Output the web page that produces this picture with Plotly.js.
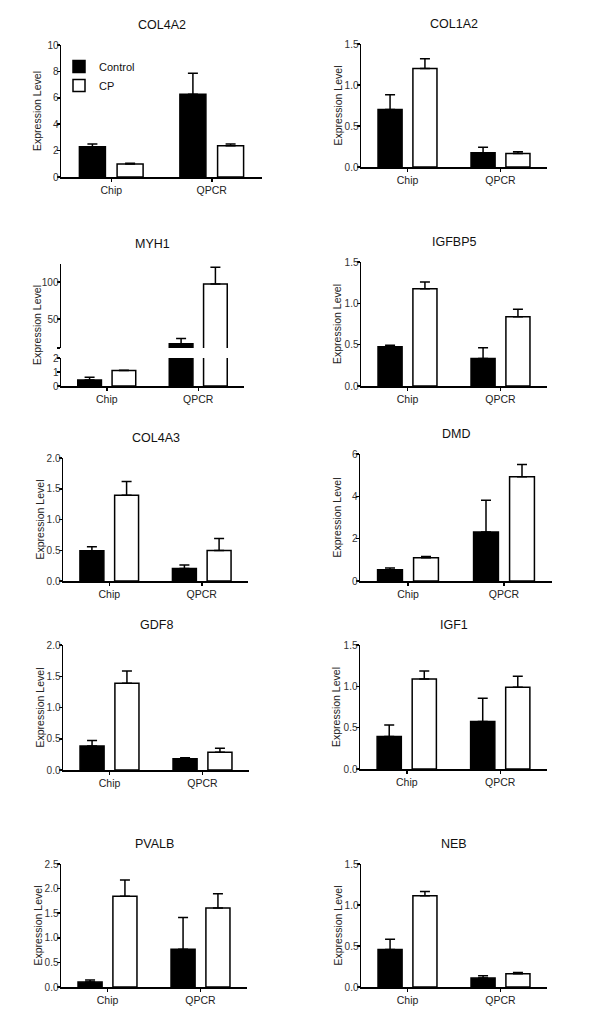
<!DOCTYPE html>
<html>
<head>
<meta charset="utf-8">
<script src="https://cdn.plot.ly/plotly-3.0.1.min.js"></script>
<style>
  html, body { margin: 0; padding: 0; background: #fff; }
  #gd { width: 600px; height: 1023px; }
</style>
</head>
<body>
<div id="gd"></div>
<script>
// values (mean and upper error, Chip / QPCR)
var genes = ["COL4A2", "COL1A2", "MYH1", "IGFBP5", "COL4A3", "DMD", "GDF8", "IGF1", "PVALB", "NEB"];
var groups = ["Chip", "QPCR"];

var controlMean = [[2.3, 6.26], [0.70, 0.175], [0.43, 16.8], [0.474, 0.332], [0.49, 0.205],
                   [0.53, 2.32], [0.384, 0.18], [0.394, 0.575], [0.10, 0.768], [0.457, 0.109]];
var controlErr  = [[0.2, 1.6], [0.18, 0.065], [0.2, 6.9], [0.02, 0.13], [0.067, 0.055],
                   [0.08, 1.49], [0.09, 0.017], [0.137, 0.28], [0.04, 0.647], [0.125, 0.028]];
var cpMean      = [[0.98, 2.37], [1.20, 0.165], [1.1, 97.3], [1.176, 0.839], [1.395, 0.497],
                   [1.10, 4.92], [1.387, 0.283], [1.09, 0.989], [1.846, 1.604], [1.112, 0.162]];
var cpErr       = [[0.07, 0.13], [0.12, 0.02], [0.02, 22.7], [0.081, 0.089], [0.221, 0.193],
                   [0.06, 0.58], [0.197, 0.064], [0.096, 0.133], [0.331, 0.29], [0.053, 0.016]];

var yMax   = [10, 1.5, 2, 1.5, 2, 6, 2, 1.5, 2.5, 1.5];
var yTicks = [[0, 2, 4, 6, 8, 10], [0, 0.5, 1, 1.5], [0, 1, 2], [0, 0.5, 1, 1.5], [0, 0.5, 1, 1.5, 2],
              [0, 2, 4, 6], [0, 0.5, 1, 1.5, 2], [0, 0.5, 1, 1.5], [0, 0.5, 1, 1.5, 2, 2.5], [0, 0.5, 1, 1.5]];

// MYH1 has a broken axis: upper segment
var myh1UpperRange = [10.9, 124.5];
var myh1UpperTicks = [10.9, 50, 100];
var myh1UpperText  = ["", "50", "100"];

// plot boxes in pixels (left, right, top, bottom)
var boxes = [
  [61, 262, 45, 177], [361, 547, 44, 167],
  [61, 244, 358, 386], [361, 547, 262, 386],
  [63, 248, 458, 581], [360, 552, 454, 581],
  [63, 249, 645, 770], [360, 547, 645, 769],
  [61, 247, 864, 987], [361, 547, 864, 987]
];
var myh1UpperBox = [264, 348];

var W = 600, H = 1023;
function fx(p) { return p / W; }
function fy(p) { return 1 - p / H; }

var FONT = "Liberation Sans, Arial, sans-serif";
var traces = [];
var layout = {
  width: W, height: H,
  margin: {l: 0, r: 0, t: 0, b: 0},
  paper_bgcolor: "#fff", plot_bgcolor: "rgba(0,0,0,0)",
  barmode: "group", bargap: 0.25, bargroupgap: 0.31,
  font: {family: FONT, size: 10, color: "#222"},
  showlegend: true,
  legend: {x: fx(59), y: fy(52), xanchor: "left", yanchor: "top", tracegroupgap: 0,
           bgcolor: "rgba(0,0,0,0)", font: {size: 11, color: "#111"}},
  annotations: [], shapes: []
};

function axisBase() {
  return {
    showline: true, linecolor: "#000", linewidth: 1.5,
    ticks: "outside", ticklen: 3, tickwidth: 1.5, tickcolor: "#000",
    showgrid: false, zeroline: false, fixedrange: true,
    tickfont: {size: 10, color: "#333"}
  };
}

function barPair(i, ya, showLeg) {
  var xa = "x" + (i + 1);
  traces.push({
    type: "bar", name: "Control", x: groups, y: controlMean[i],
    xaxis: xa, yaxis: ya, showlegend: showLeg,
    marker: {color: "#000", line: {color: "#000", width: 1.5}},
    error_y: {type: "data", symmetric: false, array: controlErr[i], arrayminus: [0, 0],
              color: "#000", thickness: 1.5, width: 5},
    hoverinfo: "y"
  });
  traces.push({
    type: "bar", name: "CP", x: groups, y: cpMean[i],
    xaxis: xa, yaxis: ya, showlegend: showLeg,
    marker: {color: "#fff", line: {color: "#000", width: 1.5}},
    error_y: {type: "data", symmetric: false, array: cpErr[i], arrayminus: [0, 0],
              color: "#000", thickness: 1.5, width: 5},
    hoverinfo: "y"
  });
}

genes.forEach(function (g, i) {
  var b = boxes[i];
  var n = i + 1;
  barPair(i, "y" + n, i === 0);

  var xa = axisBase();
  xa.type = "category";
  xa.range = [-0.5, 1.5];
  xa.domain = [fx(b[0]), fx(b[1])];
  xa.anchor = "y" + n;
  xa.tickfont = {size: 10.5, color: "#222"};
  layout["xaxis" + n] = xa;

  var ya = axisBase();
  ya.range = [0, yMax[i]];
  ya.tickvals = yTicks[i];
  ya.tickformat = yTicks[i].some(function (t) { return t % 1 !== 0; }) ? ".1f" : "d";
  ya.domain = [fy(b[3]), fy(b[2])];
  ya.anchor = "x" + n;
  ya.ticklabelstandoff = -4;
  layout["yaxis" + n] = ya;

  var top = b[2], bottom = b[3];
  if (g === "MYH1") top = myh1UpperBox[0];

  layout.annotations.push({
    text: g, xref: "paper", yref: "paper",
    x: fx((b[0] + b[1]) / 2), y: fy(top - 20),
    xanchor: "center", yanchor: "middle", showarrow: false,
    font: {size: 12.5, color: "#111"}
  });
  layout.annotations.push({
    text: "Expression Level", xref: "paper", yref: "paper",
    x: fx(b[0] - 24), y: fy((top + bottom) / 2), textangle: -90,
    xanchor: "center", yanchor: "middle", showarrow: false,
    font: {size: 10.5, color: "#222"}
  });
});

// upper segment of the MYH1 broken axis, sharing x3
var upper = axisBase();
upper.range = myh1UpperRange;
upper.tickvals = myh1UpperTicks;
upper.ticktext = myh1UpperText;
upper.domain = [fy(myh1UpperBox[1]), fy(myh1UpperBox[0])];
upper.anchor = "x3";
upper.ticklabelstandoff = -4;
layout.yaxis11 = upper;
barPair(2, "y11", false);

var config = {staticPlot: true, displayModeBar: false};
Plotly.newPlot("gd", traces, layout, config);
</script>
</body>
</html>
